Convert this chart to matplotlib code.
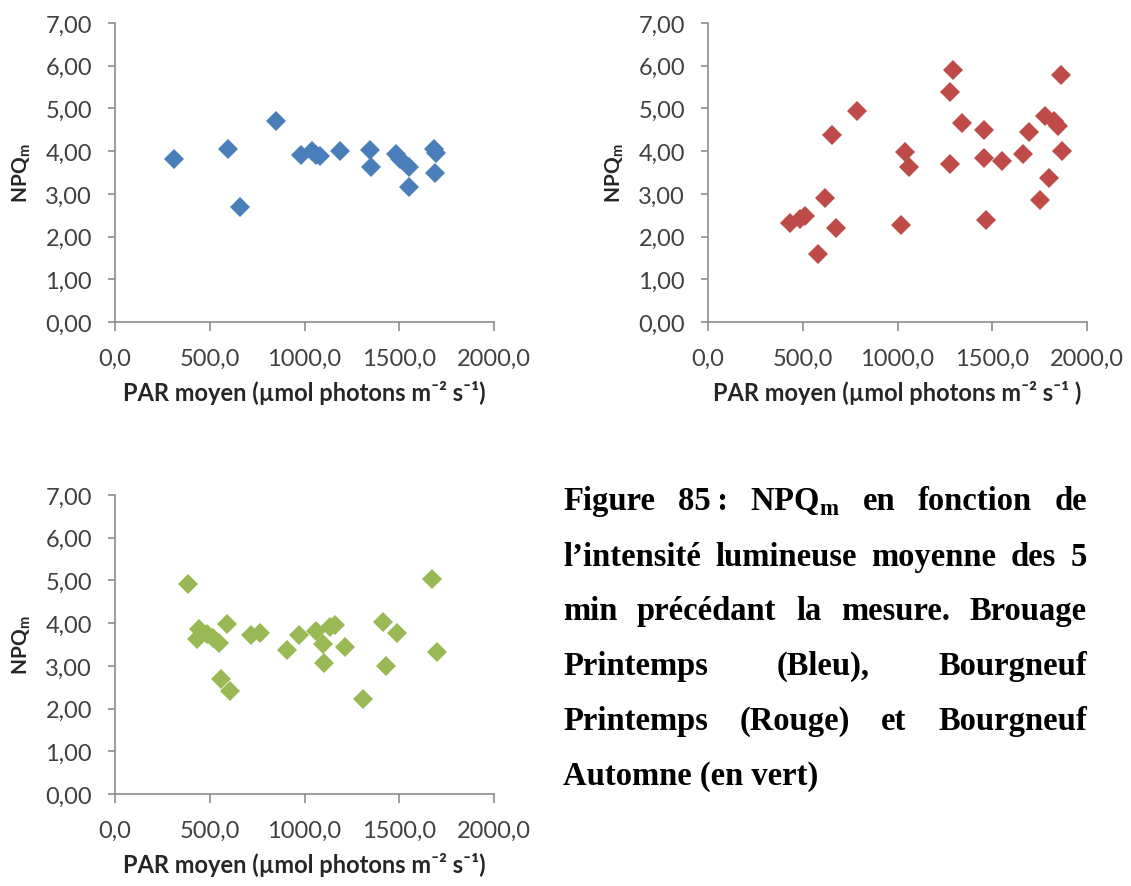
import matplotlib
matplotlib.use("Agg")
import matplotlib.pyplot as plt
from matplotlib.ticker import FuncFormatter, MultipleLocator

# Brouage Printemps (bleu)
blue_par = [311, 594, 659, 847, 984, 1037, 1060, 1084, 1186, 1344, 1353, 1481, 1502, 1552, 1552, 1684, 1696, 1687]
blue_npq = [3.81, 4.05, 2.70, 4.71, 3.91, 4.01, 3.92, 3.89, 4.01, 4.03, 3.62, 3.93, 3.81, 3.62, 3.15, 4.06, 3.95, 3.50]

# Bourgneuf Printemps (rouge)
red_par = [432, 485, 511, 620, 678, 578, 655, 784, 1020, 1040, 1061, 1278, 1292, 1339, 1278, 1454,
           1458, 1468, 1551, 1662, 1692, 1753, 1780, 1797, 1824, 1845, 1863, 1868]
red_npq = [2.31, 2.41, 2.47, 2.91, 2.20, 1.59, 4.38, 4.95, 2.27, 3.98, 3.62, 5.39, 5.91, 4.66, 3.70, 4.50,
           3.85, 2.38, 3.77, 3.93, 4.44, 2.85, 4.83, 3.38, 4.71, 4.59, 5.78, 4.01]

# Bourgneuf Automne (vert)
green_par = [387, 445, 431, 483, 518, 550, 589, 562, 606, 720, 765, 909, 970, 1063, 1098, 1134,
             1160, 1104, 1213, 1310, 1415, 1490, 1432, 1673, 1701]
green_npq = [4.91, 3.86, 3.64, 3.74, 3.66, 3.53, 3.99, 2.69, 2.40, 3.73, 3.78, 3.38, 3.73, 3.82, 3.51, 3.90,
             3.95, 3.06, 3.43, 2.22, 4.03, 3.78, 2.99, 5.04, 3.33]

caption_lines = [
    ["Figure", "85\u2009:", r"NPQ$_\mathrm{m}$", "en", "fonction", "de"],
    ["l\u2019intensit\u00e9", "lumineuse", "moyenne", "des", "5"],
    ["min", "pr\u00e9c\u00e9dant", "la", "mesure.", "Brouage"],
    ["Printemps", "(Bleu),", "Bourgneuf"],
    ["Printemps", "(Rouge)", "et", "Bourgneuf"],
    ["Automne (en vert)"],
]

plt.rcParams["font.family"] = ["Lato", "DejaVu Sans"]
plt.rcParams["mathtext.fontset"] = "custom"
plt.rcParams["mathtext.rm"] = "Liberation Serif:bold"
plt.rcParams["mathtext.sf"] = "Lato:bold"

W, H = 1131, 887
fig = plt.figure(figsize=(W / 100, H / 100), dpi=100)


def px_axes(left, top, right, bottom):
    return fig.add_axes([left / W, 1 - bottom / H, (right - left) / W, (bottom - top) / H])


def style_axes(ax, xlabel):
    ax.set_xlim(0, 2000)
    ax.set_ylim(0, 7)
    ax.xaxis.set_major_locator(MultipleLocator(500))
    ax.yaxis.set_major_locator(MultipleLocator(1))
    ax.xaxis.set_major_formatter(FuncFormatter(lambda v, p: f"{v:.1f}".replace(".", ",")))
    ax.yaxis.set_major_formatter(FuncFormatter(lambda v, p: f"{v:.2f}".replace(".", ",")))
    for s in ["top", "right"]:
        ax.spines[s].set_visible(False)
    for s in ["left", "bottom"]:
        ax.spines[s].set_color("#8c8c8c")
        ax.spines[s].set_linewidth(1.2)
    ax.tick_params(direction="out", width=1.2, color="#8c8c8c",
                   labelsize=17, labelcolor="#404040")
    ax.tick_params(axis="x", length=6.5, pad=12)
    ax.tick_params(axis="y", length=5, pad=11.5)
    ax.set_ylabel(r"NPQ$_\mathsf{m}$", fontsize=15, fontweight="bold", color="#262626", labelpad=9)
    ax.set_xlabel(xlabel, fontsize=17, fontweight="bold", color="#262626", labelpad=8)


xlab = "PAR moyen (µmol photons m\u207b\u00b2 s\u207b\u00b9)"
xlab2 = "PAR moyen (µmol photons m\u207b\u00b2 s\u207b\u00b9 )"

ax1 = px_axes(115, 24, 494, 323)
ax1.plot(blue_par, blue_npq, "D", color="#4a7ebb", ms=10.2, mew=0, clip_on=False)
style_axes(ax1, xlab)

ax2 = px_axes(708, 24, 1087, 323)
ax2.plot(red_par, red_npq, "D", color="#be4b48", ms=10.2, mew=0, clip_on=False)
style_axes(ax2, xlab2)

ax3 = px_axes(115, 496, 494, 795)
ax3.plot(green_par, green_npq, "D", color="#98b954", ms=10.2, mew=0, clip_on=False)
style_axes(ax3, xlab)

# légende de la figure, texte justifié
cap_left, cap_right = 563, 1087
baselines = [510, 566, 620, 675, 730, 785]
renderer = fig.canvas.get_renderer()
for words, base in zip(caption_lines, baselines):
    texts = [fig.text(0, 1 - base / H, w, fontsize=23.5, fontweight="bold",
                      family=["Liberation Serif", "DejaVu Serif"], va="baseline", ha="left")
             for w in words]
    widths = [t.get_window_extent(renderer).width for t in texts]
    if len(words) > 1:
        gap = (cap_right - cap_left - sum(widths)) / (len(words) - 1)
    else:
        gap = 0
    x = cap_left
    for t, w in zip(texts, widths):
        t.set_x(x / W)
        x += w + gap

fig.savefig("out.png", dpi=100)
